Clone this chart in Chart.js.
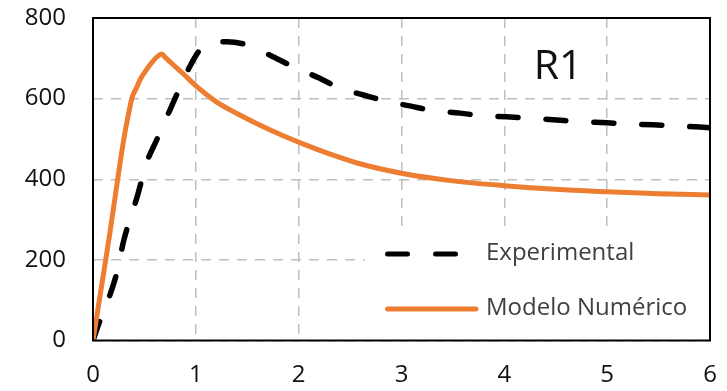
<!DOCTYPE html>
<html>
<head>
<meta charset="utf-8">
<script src="https://cdn.jsdelivr.net/npm/chart.js@4.4.1/dist/chart.umd.min.js"></script>
<style>
  html, body { margin: 0; padding: 0; background: #fff; }
  #wrap { width: 727px; height: 391px; }
</style>
</head>
<body>
<div id="wrap"><canvas id="grafico" width="727" height="391"></canvas></div>
<script>
// Experimental (linha tracejada preta)
const expX = [0, 0.07, 0.17, 0.23, 0.30, 0.43, 0.52, 0.62, 0.75, 0.85, 0.94, 1.04, 1.15, 1.30, 1.50, 1.75, 1.95, 2.20, 2.40, 2.63, 2.86, 3.08, 3.31, 3.57, 3.80, 4.02, 4.28, 4.51, 4.74, 5.00, 5.22, 5.45, 5.71, 6.00];
const expY = [0, 51, 117, 167, 249, 357, 440, 498, 573, 630, 679, 721, 737, 741, 733, 704, 679, 651, 626, 609, 593, 582, 570, 564, 557, 555, 551, 547, 543, 540, 537, 535, 532, 528];

// Modelo Numérico (linha laranja)
const numX = [0, 0.08, 0.165, 0.24, 0.30, 0.35, 0.38, 0.42, 0.46, 0.52, 0.60, 0.64, 0.668, 0.70, 0.78, 0.88, 0.99, 1.2, 1.4, 1.625, 1.85, 2.11, 2.3, 2.56, 3.0, 3.5, 4.0, 4.5, 5.0, 5.5, 6.0];
const numY = [0, 130, 268, 400, 500, 568, 603, 625, 648, 672, 698, 707, 711, 703, 684, 661, 634, 592, 563, 534, 508, 481, 463, 441, 415, 396, 384, 375, 369, 364, 361];

const rotulos = ['Experimental', 'Modelo Numérico'];
const titulo = 'R1';

const xMin = 0, xMax = 6, xPasso = 1;
const yMin = 0, yMax = 800, yPasso = 200;

function juntarPontos(xs, ys) {
  return xs.map((x, i) => ({ x: x, y: ys[i] }));
}

const fonte = '"Open Sans", "Noto Sans", sans-serif';

const pluginMoldura = {
  id: 'moldura',
  afterDraw(chart) {
    const ctx = chart.ctx;
    const area = chart.chartArea;
    const ds = chart.data.datasets;
    ctx.save();

    // caixa da legenda (fundo branco sobre a grade)
    ctx.fillStyle = '#fff';
    ctx.fillRect(365, 228, area.right - 366, 108);

    ctx.lineWidth = 5;
    ctx.lineCap = 'round';
    ctx.strokeStyle = ds[0].borderColor;
    ctx.setLineDash(ds[0].borderDash);
    ctx.beginPath();
    ctx.moveTo(387.5, 254);
    ctx.lineTo(460, 254);
    ctx.stroke();

    ctx.setLineDash([]);
    ctx.strokeStyle = ds[1].borderColor;
    ctx.beginPath();
    ctx.moveTo(387.5, 309);
    ctx.lineTo(476, 309);
    ctx.stroke();

    ctx.fillStyle = '#404040';
    ctx.font = '24px ' + fonte;
    ctx.textAlign = 'left';
    ctx.textBaseline = 'middle';
    ctx.fillText(ds[0].label, 486, 253);
    ctx.fillText(ds[1].label, 486, 308);

    // título R1
    ctx.fillStyle = '#111';
    ctx.font = '41px ' + fonte;
    ctx.textAlign = 'center';
    ctx.fillText(titulo, 558, 67);

    // moldura da área do gráfico
    ctx.strokeStyle = '#000';
    ctx.lineWidth = 2;
    ctx.lineCap = 'butt';
    ctx.strokeRect(area.left, area.top, area.right - area.left, area.bottom - area.top);
    ctx.restore();
  }
};

new Chart(document.getElementById('grafico'), {
  type: 'scatter',
  data: {
    datasets: [{
      label: rotulos[0],
      data: juntarPontos(expX, expY),
      showLine: true,
      borderColor: '#000000',
      borderWidth: 5.5,
      borderDash: [20, 28],
      borderCapStyle: 'round',
      borderJoinStyle: 'round',
      cubicInterpolationMode: 'monotone',
      pointRadius: 0,
      order: 2
    }, {
      label: rotulos[1],
      data: juntarPontos(numX, numY),
      showLine: true,
      borderColor: '#ED7D31',
      borderWidth: 5,
      borderCapStyle: 'round',
      borderJoinStyle: 'round',
      cubicInterpolationMode: 'monotone',
      pointRadius: 0,
      order: 1
    }]
  },
  options: {
    responsive: false,
    animation: false,
    devicePixelRatio: 1,
    layout: { padding: { left: 0, right: 17, top: 18, bottom: 0 } },
    plugins: {
      legend: { display: false },
      tooltip: { enabled: false }
    },
    scales: {
      x: {
        type: 'linear',
        min: xMin,
        max: xMax,
        afterFit: scale => {
          scale.height = 50.5;
          scale.paddingLeft = 0;
          scale.paddingRight = 0;
        },
        ticks: { stepSize: xPasso, color: '#111', padding: 20, font: { family: fonte, size: 24 } },
        grid: { color: '#bfbfbf', lineWidth: 1.5, drawTicks: false },
        border: { display: false, dash: [10, 8] }
      },
      y: {
        min: yMin,
        max: yMax,
        afterFit: scale => {
          scale.width = 93;
          scale.paddingTop = 0;
          scale.paddingBottom = 0;
        },
        ticks: { stepSize: yPasso, color: '#111', padding: 27, font: { family: fonte, size: 24 } },
        grid: { color: '#bfbfbf', lineWidth: 1.5, drawTicks: false },
        border: { display: false, dash: [10, 8] }
      }
    }
  },
  plugins: [pluginMoldura]
});
</script>
</body>
</html>
